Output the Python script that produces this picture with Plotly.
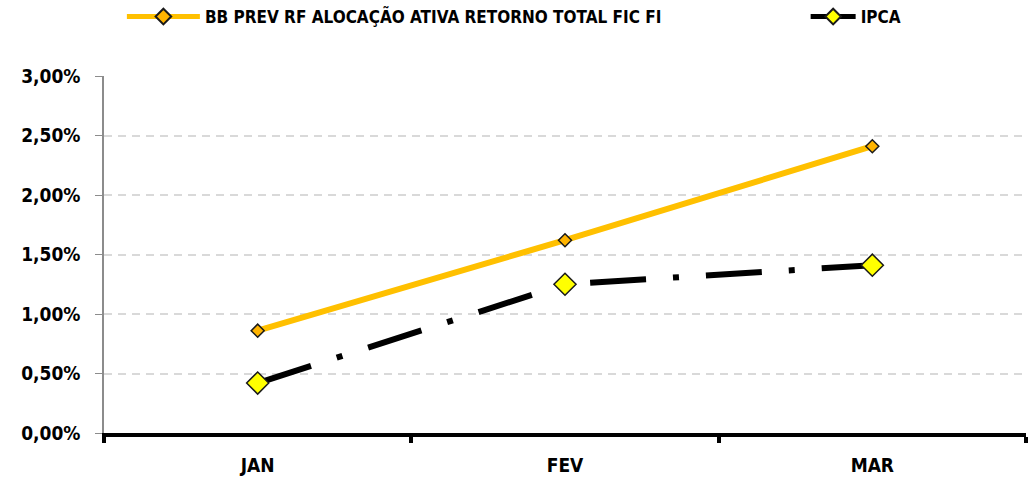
import plotly.graph_objects as go

months = ["JAN", "FEV", "MAR"]
fund_name = "BB PREV RF ALOCAÇÃO ATIVA RETORNO TOTAL FIC FI"
fund_values = [0.0086, 0.0162, 0.0241]
ipca_name = "IPCA"
ipca_values = [0.0042, 0.0125, 0.0141]
y_ticks = [0, 0.005, 0.01, 0.015, 0.02, 0.025, 0.03]

FONT = "DejaVu Sans Condensed, Liberation Sans Narrow, sans-serif"

fig = go.Figure()
fig.add_trace(go.Scatter(
    x=months, y=fund_values, name=fund_name, mode="lines+markers",
    line=dict(color="#FFC000", width=6),
    marker=dict(symbol="diamond", size=10, color="#FFB400",
                line=dict(color="#1a1a1a", width=1.5)),
    legend="legend", showlegend=True,
))
fig.add_trace(go.Scatter(
    x=months, y=ipca_values, name=ipca_name, mode="lines+markers",
    line=dict(color="#000000", width=6, dash="56px,27px,6px,27px"),
    marker=dict(symbol="diamond", size=17, color="#FFFF00",
                line=dict(color="#1a1a1a", width=1.5)),
    legend="legend2", showlegend=True,
))

leg_common = dict(orientation="h", yref="container", y=0.9646, yanchor="middle",
                  font=dict(size=17, family=FONT, color="#000", weight="bold"),
                  bgcolor="rgba(0,0,0,0)", itemsizing="constant")

fig.update_layout(
    width=1032, height=480,
    margin=dict(l=104, r=6, t=76, b=47),
    paper_bgcolor="white", plot_bgcolor="white",
    separators=",.",
    showlegend=True,
    font=dict(family=FONT, color="#000000", weight="bold"),
    legend=dict(x=0.0194, xanchor="left", itemwidth=73, **leg_common),
    legend2=dict(x=0.761, xanchor="left", itemwidth=45, **leg_common),
    xaxis=dict(
        type="category", range=[-0.5, 2.5], automargin=False,
        showline=True, linecolor="#000000", linewidth=4,
        ticks="outside", tickson="boundaries", ticklen=6, tickwidth=4, tickcolor="#000",
        showgrid=False, zeroline=False,
        tickfont=dict(size=19, family=FONT, color="#000", weight="bold"),
        ticklabelstandoff=12,
    ),
    yaxis=dict(
        range=[0, 0.03], tickvals=y_ticks, tickformat=".2%", automargin=False,
        showline=True, linecolor="#8c8c8c", linewidth=1.5,
        ticks="outside", ticklen=7, tickwidth=1, tickcolor="#8c8c8c",
        showgrid=True, gridcolor="#D9D9D9", gridwidth=1.5, griddash="8px,6px",
        zeroline=False,
        tickfont=dict(size=19, family=FONT, color="#000", weight="bold"),
        ticklabelstandoff=11,
    ),
)

fig.write_html(
    "out.html",
    config={"displayModeBar": False},
    post_script="document.body.style.margin='0';document.body.style.overflow='hidden';",
)
